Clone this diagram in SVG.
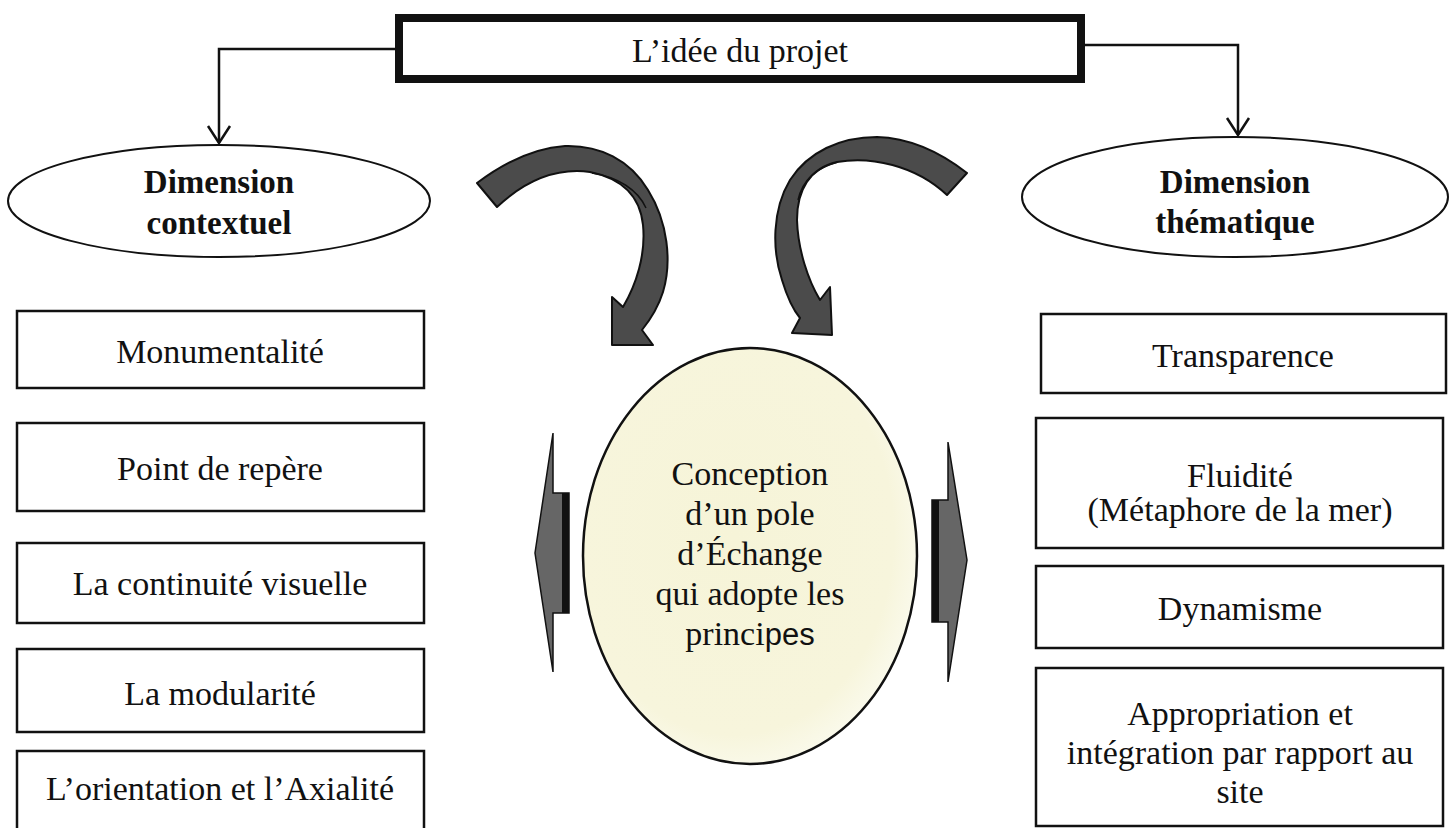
<svg xmlns="http://www.w3.org/2000/svg" width="1454" height="828" viewBox="0 0 1454 828">
<style>
.t{font-family:"Liberation Serif","Times New Roman",serif;font-size:34px;fill:#111;text-anchor:middle}
.b{font-weight:bold;font-size:33px}
.box{fill:#fff;stroke:#111;stroke-width:2.5}
.conn{fill:none;stroke:#111;stroke-width:2.5}
.carrow{fill:#4b4b4b;stroke:#111;stroke-width:2;stroke-linejoin:round}
.sarrow{fill:#666;stroke:#111;stroke-width:1.5}
</style>
<defs>
<marker id="vh" viewBox="0 0 20 26" refX="18" refY="13" markerWidth="20" markerHeight="26" markerUnits="userSpaceOnUse" orient="auto">
<path d="M1,2 L18,13 L1,24" fill="none" stroke="#111" stroke-width="2.5"/>
</marker>
<radialGradient id="cream" cx="0.45" cy="0.45" r="0.6">
<stop offset="0" stop-color="#f6f4d8"/>
<stop offset="0.8" stop-color="#f7f5dc"/>
<stop offset="1" stop-color="#fbfbf0"/>
</radialGradient>
</defs>
<rect width="1454" height="828" fill="#fff"/>

<g id="connectors">
<path class="conn" d="M395,49 L219,49 L219,143" marker-end="url(#vh)"/>
<path class="conn" d="M1085,45 L1238,45 L1238,135" marker-end="url(#vh)"/>
</g>

<g id="idee">
<rect x="399" y="18" width="682" height="61" fill="#fff" stroke="#111" stroke-width="8"/>
<text class="t" x="740" y="62">L’idée du projet</text>
</g>

<g id="dim-contextuel">
<ellipse cx="219" cy="201" rx="211" ry="56" fill="#fff" stroke="#111" stroke-width="2"/>
<text class="t b" x="219" y="193">Dimension</text>
<text class="t b" x="219" y="234">contextuel</text>
</g>

<g id="dim-thematique">
<ellipse cx="1235" cy="197" rx="213" ry="60" fill="#fff" stroke="#111" stroke-width="2"/>
<text class="t b" x="1235" y="193">Dimension</text>
<text class="t b" x="1235" y="233">thématique</text>
</g>

<g id="curved-arrows">
<path class="carrow" d="M477,183 C505,162 535,148 565,146 C600,145 630,160 648,190 C668,222 672,262 663,292 C658,308 650,320 642,330 L653,345 L612,345 L612,297 L623,307 C636,285 646,255 643,225 C640,195 620,178 590,172 C560,168 528,178 497,207 Z"/>
<path d="M592,173 C618,177 638,190 646,208" fill="none" stroke="#111" stroke-width="1.5"/>
<path class="carrow" d="M967,173 C940,152 910,138 877,137 C840,137 808,152 790,180 C772,210 772,250 782,280 C788,300 795,312 800,318 L792,333 L832,335 L830,287 L820,300 C808,280 798,250 797,220 C797,190 810,168 837,162 C870,156 915,165 947,195 Z"/>
<path d="M838,162 C815,168 802,182 798,200" fill="none" stroke="#111" stroke-width="1.5"/>
</g>

<g id="side-arrows">
<path class="sarrow" d="M553,433 L535,553 L553,672 L553,613 L569,613 L569,493 L553,493 Z"/>
<rect x="562" y="493" width="7" height="120" fill="#111"/>
<path class="sarrow" d="M948,442 L967,560 L948,682 L948,622 L932,622 L932,500 L948,500 Z"/>
<rect x="932" y="500" width="7" height="122" fill="#111"/>
</g>

<g id="conception">
<ellipse cx="750" cy="556" rx="167" ry="208" fill="url(#cream)" stroke="#111" stroke-width="2.5"/>
<text class="t" x="750" y="485" font-size="33">Conception</text>
<text class="t" x="750" y="525" font-size="33">d’un pole</text>
<text class="t" x="750" y="565" font-size="33">d’Échange</text>
<text class="t" x="750" y="605" font-size="33">qui adopte les</text>
<text class="t" x="750" y="645" font-size="33">princi<tspan font-family="Liberation Sans, Arial, sans-serif" font-size="31">pes</tspan></text>
</g>

<g id="monumentalite">
<rect class="box" x="17" y="311" width="407" height="77"/>
<text class="t" x="220" y="363">Monumentalité</text>
</g>
<g id="point-repere">
<rect class="box" x="17" y="423" width="407" height="88"/>
<text class="t" x="220" y="480">Point de repère</text>
</g>
<g id="continuite">
<rect class="box" x="17" y="543" width="407" height="80"/>
<text class="t" x="220" y="595">La continuité visuelle</text>
</g>
<g id="modularite">
<rect class="box" x="17" y="649" width="407" height="83"/>
<text class="t" x="220" y="705">La modularité</text>
</g>
<g id="orientation">
<rect class="box" x="17" y="751" width="407" height="90"/>
<text class="t" x="220" y="800">L’orientation et l’Axialité</text>
</g>

<g id="transparence">
<rect class="box" x="1041" y="314" width="405" height="79"/>
<text class="t" x="1243" y="367">Transparence</text>
</g>
<g id="fluidite">
<rect class="box" x="1036" y="418" width="407" height="130"/>
<text class="t" x="1240" y="487">Fluidité</text>
<text class="t" x="1240" y="521">(Métaphore de la mer)</text>
</g>
<g id="dynamisme">
<rect class="box" x="1036" y="566" width="407" height="82"/>
<text class="t" x="1240" y="620">Dynamisme</text>
</g>
<g id="appropriation">
<rect class="box" x="1036" y="668" width="407" height="158"/>
<text class="t" x="1240" y="725">Appropriation et</text>
<text class="t" x="1240" y="764">intégration par rapport au</text>
<text class="t" x="1240" y="803">site</text>
</g>
</svg>
